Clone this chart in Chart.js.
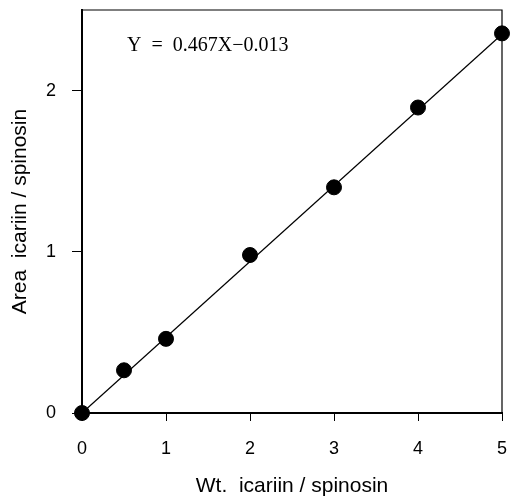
<!DOCTYPE html>
<html>
<head>
<meta charset="utf-8">
<script src="https://cdn.jsdelivr.net/npm/chart.js@4"></script>
<style>
  html, body { margin: 0; padding: 0; background: #fff; }
  #wrap { width: 516px; height: 502px; }
</style>
</head>
<body>
<div id="wrap"><canvas id="calib"></canvas></div>
<script>
const wtRatio = [0, 0.5, 1, 2, 3, 4, 5];
const areaRatio = [0, 0.265, 0.46, 0.98, 1.40, 1.895, 2.355];
// regression line end points
const fitX = [0, 5];
const fitY = [0, 2.35];
const xTicks = [0, 1, 2, 3, 4, 5];
const yTicks = [0, 1, 2];
const equation = "Y  =  0.467X\u22120.013";

const tickFont = { family: "Liberation Sans, Arial, sans-serif", size: 18 };
const titleFont = { family: "Liberation Sans, Arial, sans-serif", size: 21 };

// chart.js pads the area for edge labels; we want a fixed box
function noPad(s) {
  s.paddingTop = 0; s.paddingBottom = 0;
  s.paddingLeft = 0; s.paddingRight = 0;
}

const frame = {
  id: "frame",
  afterDraw(chart) {
    const { ctx, chartArea: a } = chart;
    ctx.save();
    ctx.strokeStyle = "#000";
    ctx.lineWidth = 1.2;
    ctx.beginPath();
    ctx.moveTo(a.left, a.top);
    ctx.lineTo(a.right, a.top);
    ctx.lineTo(a.right, a.bottom);
    ctx.stroke();
    ctx.font = "20px 'Liberation Serif', 'Times New Roman', serif";
    ctx.fillStyle = "#000";
    ctx.textBaseline = "alphabetic";
    ctx.fillText(equation, a.left + 45, a.top + 41);
    ctx.restore();
  }
};

new Chart(document.getElementById("calib"), {
  type: "scatter",
  data: {
    datasets: [
      {
        type: "line",
        data: fitX.map((x, i) => ({ x, y: fitY[i] })),
        borderColor: "#000",
        borderWidth: 1.2,
        pointRadius: 0,
        clip: false
      },
      {
        data: wtRatio.map((x, i) => ({ x, y: areaRatio[i] })),
        backgroundColor: "#000",
        borderColor: "#000",
        pointRadius: 7.5,
        clip: false
      }
    ]
  },
  options: {
    responsive: true,
    maintainAspectRatio: false,
    animation: false,
    layout: { padding: { top: 10, right: 14, left: 0, bottom: 0 } },
    plugins: { legend: { display: false }, tooltip: { enabled: false } },
    scales: {
      x: {
        type: "linear",
        min: 0,
        max: 5,
        afterFit(s) { s.height = 89; noPad(s); },
        afterBuildTicks(s) { s.ticks = xTicks.map(v => ({ value: v })); },
        grid: { display: true, drawOnChartArea: false, tickLength: 8, color: "#000", tickWidth: 1 },
        border: { color: "#000", width: 2 },
        ticks: { color: "#000", font: tickFont, padding: 17, maxRotation: 0 },
        title: { display: true, text: "Wt.  icariin / spinosin", color: "#000", font: titleFont, padding: { top: 0, bottom: 3 } }
      },
      y: {
        type: "linear",
        min: 0,
        max: 2.5,
        afterFit(s) { s.width = 82; noPad(s); },
        afterBuildTicks(s) { s.ticks = yTicks.map(v => ({ value: v })); },
        grid: { display: true, drawOnChartArea: false, tickLength: 10, color: "#000", tickWidth: 1 },
        border: { color: "#000", width: 2 },
        ticks: { color: "#000", font: tickFont, padding: 16 },
        title: { display: true, text: "Area  icariin / spinosin", color: "#000", font: titleFont, padding: { top: 8, bottom: 0 } }
      }
    }
  },
  plugins: [frame]
});
</script>
</body>
</html>
